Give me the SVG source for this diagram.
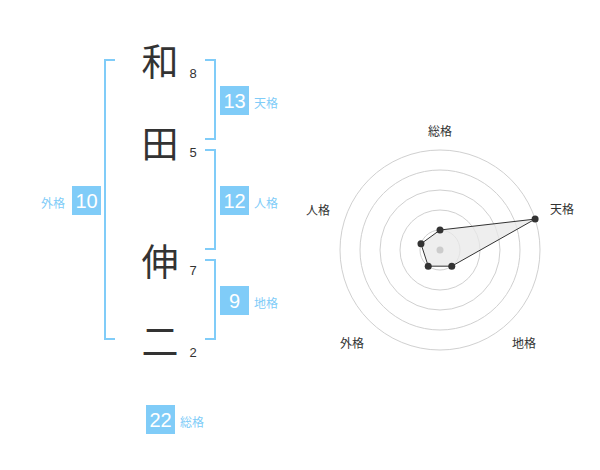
<svg xmlns="http://www.w3.org/2000/svg" width="600" height="470" viewBox="0 0 600 470">
<style>
.kanji{font-family:"Noto Sans CJK JP","Noto Sans CJK SC",sans-serif;font-size:37px;fill:#333;text-anchor:middle;dominant-baseline:central}
.num{font-family:"Liberation Sans",Arial,sans-serif;font-size:13px;fill:#333;text-anchor:middle;dominant-baseline:central}
.box{fill:#80ccf8}
.bnum{font-family:"Liberation Sans",Arial,sans-serif;font-size:20px;fill:#fff;text-anchor:middle;dominant-baseline:central}
.blab{font-family:"Noto Sans CJK JP",sans-serif;font-size:12px;fill:#80ccf8;dominant-baseline:central}
.br{fill:none;stroke:#80ccf8;stroke-width:2}
.ring{fill:none;stroke:#d0d0d0;stroke-width:1}
.rlab{font-family:"Noto Sans CJK JP",sans-serif;font-size:12px;fill:#333;text-anchor:middle;dominant-baseline:central}
.pt{fill:#333}
</style>
<g id="name">
<g id="char1"><text class="kanji" x="160" y="60">和</text><text class="num" x="193" y="73">8</text></g>
<g id="char2"><text class="kanji" x="160" y="142">田</text><text class="num" x="193" y="152">5</text></g>
<g id="char3"><text class="kanji" x="160" y="260">伸</text><text class="num" x="193" y="270">7</text></g>
<g id="char4"><text class="kanji" x="160" y="340">二</text><text class="num" x="193" y="352">2</text></g>
</g>
<g id="connectors">
<path class="br" d="M115,60 H105 V339 H115"/>
<path class="br" d="M205,60 H215 V139 H205"/>
<path class="br" d="M205,150 H215 V249 H205"/>
<path class="br" d="M205,260 H215 V339 H205"/>
</g>
<g id="tenkaku"><rect class="box" x="220" y="86" width="29" height="29"/><text class="bnum" x="234.5" y="101">13</text><text class="blab" x="254" y="102">天格</text></g>
<g id="jinkaku"><rect class="box" x="220" y="186" width="29" height="29"/><text class="bnum" x="234.5" y="201">12</text><text class="blab" x="254" y="202">人格</text></g>
<g id="chikaku"><rect class="box" x="220" y="286" width="29" height="29"/><text class="bnum" x="234.5" y="301">9</text><text class="blab" x="254" y="302">地格</text></g>
<g id="gaikaku"><rect class="box" x="72" y="186" width="29" height="29"/><text class="bnum" x="86.5" y="201">10</text><text class="blab" x="41" y="202">外格</text></g>
<g id="soukaku"><rect class="box" x="146" y="405" width="29" height="29"/><text class="bnum" x="160.5" y="420">22</text><text class="blab" x="180" y="421">総格</text></g>
<g id="radar">
<circle class="ring" cx="440" cy="250" r="20"/>
<circle class="ring" cx="440" cy="250" r="40"/>
<circle class="ring" cx="440" cy="250" r="60"/>
<circle class="ring" cx="440" cy="250" r="80"/>
<circle class="ring" cx="440" cy="250" r="100"/>
<polygon points="440,230 535.1,219.1 451.76,266.18 428.24,266.18 420.98,243.82" fill="#e8e8e8" fill-opacity="0.75" stroke="#333" stroke-width="1"/>
<circle cx="440" cy="250" r="3.5" fill="#ccc"/>
<circle class="pt" cx="440" cy="230" r="3.5"/>
<circle class="pt" cx="535.1" cy="219.1" r="3.5"/>
<circle class="pt" cx="451.76" cy="266.18" r="3.5"/>
<circle class="pt" cx="428.24" cy="266.18" r="3.5"/>
<circle class="pt" cx="420.98" cy="243.82" r="3.5"/>
<text class="rlab" x="440" y="130">総格</text>
<text class="rlab" x="562" y="208">天格</text>
<text class="rlab" x="318" y="209">人格</text>
<text class="rlab" x="352" y="342">外格</text>
<text class="rlab" x="524" y="342">地格</text>
</g>
</svg>
